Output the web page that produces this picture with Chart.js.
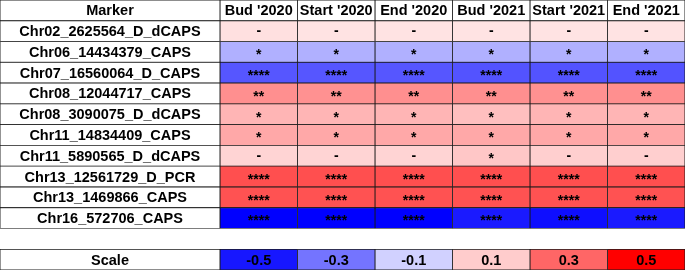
<!DOCTYPE html>
<html>
<head>
<meta charset="utf-8">
<script src="https://cdn.jsdelivr.net/npm/chart.js@4"></script>
<style>
  html, body { margin: 0; padding: 0; background: #fff; }
  #heat { display: block; }
</style>
</head>
<body>
<canvas id="heat" width="685" height="270"></canvas>
<script>
const columns = ["Bud '2020", "Start '2020", "End '2020", "Bud '2021", "Start '2021", "End '2021"];
const markers = [
  'Chr02_2625564_D_dCAPS',
  'Chr06_14434379_CAPS',
  'Chr07_16560064_D_CAPS',
  'Chr08_12044717_CAPS',
  'Chr08_3090075_D_dCAPS',
  'Chr11_14834409_CAPS',
  'Chr11_5890565_D_dCAPS',
  'Chr13_12561729_D_PCR',
  'Chr13_1469866_CAPS',
  'Chr16_572706_CAPS'
];
// effect per marker, one value per column
const effects = [
  [0.060, 0.055, 0.055, 0.055, 0.055, 0.055],
  [-0.170, -0.170, -0.170, -0.170, -0.170, -0.170],
  [-0.365, -0.365, -0.365, -0.370, -0.370, -0.370],
  [0.220, 0.215, 0.220, 0.220, 0.215, 0.220],
  [0.145, 0.145, 0.145, 0.125, 0.145, 0.145],
  [0.170, 0.170, 0.170, 0.170, 0.170, 0.170],
  [0.085, 0.085, 0.085, 0.110, 0.095, 0.095],
  [0.345, 0.345, 0.345, 0.345, 0.345, 0.345],
  [0.340, 0.340, 0.340, 0.340, 0.340, 0.340],
  [-0.550, -0.550, -0.550, -0.495, -0.520, -0.495]
];
const signif = [
  ['-', '-', '-', '-', '-', '-'],
  ['*', '*', '*', '*', '*', '*'],
  ['****', '****', '****', '****', '****', '****'],
  ['**', '**', '**', '**', '**', '**'],
  ['*', '*', '*', '*', '*', '*'],
  ['*', '*', '*', '*', '*', '*'],
  ['-', '-', '-', '*', '-', '-'],
  ['****', '****', '****', '****', '****', '****'],
  ['****', '****', '****', '****', '****', '****'],
  ['****', '****', '****', '****', '****', '****']
];
const scaleValues = [-0.5, -0.3, -0.1, 0.1, 0.3, 0.5];

const markerWidth = 220 / 77.5; // first column, in units of one data column
const rows = ['Marker', ...markers, '', 'Scale'];
const GAP = rows.length - 2;
const SCALE = rows.length - 1;

function heatColor(v) {
  if (v < 0) {
    const c = Math.round(255 * (1 - Math.min(1, -v / 0.55)));
    return `rgb(${c},${c},255)`;
  }
  const c = Math.round(255 * (1 - Math.min(1, v / 0.5)));
  return `rgb(255,${c},${c})`;
}

const datasets = [{
  label: 'Marker',
  data: rows.map((r, i) => i === GAP ? null : markerWidth),
  backgroundColor: '#ffffff',
  texts: rows.map((r, i) => i === GAP ? '' : r)
}];
columns.forEach((col, j) => {
  datasets.push({
    label: col,
    data: rows.map((r, i) => i === GAP ? null : 1),
    backgroundColor: rows.map((r, i) => {
      if (i === 0 || i === GAP) return '#ffffff';
      if (i === SCALE) return heatColor(scaleValues[j]);
      return heatColor(effects[i - 1][j]);
    }),
    texts: rows.map((r, i) => {
      if (i === 0) return col;
      if (i === GAP) return '';
      if (i === SCALE) return String(scaleValues[j]);
      return signif[i - 1][j];
    })
  });
});
datasets.forEach(d => {
  d.borderColor = '#1a1a1a';
  d.borderWidth = 0.8;
  d.borderSkipped = false;
  d.barPercentage = 1;
  d.categoryPercentage = 1;
});

const cellText = {
  id: 'cellText',
  afterDatasetsDraw(chart) {
    const ctx = chart.ctx;
    ctx.save();
    ctx.fillStyle = '#000';
    ctx.textAlign = 'center';
    ctx.textBaseline = 'middle';
    chart.data.datasets.forEach((ds, di) => {
      chart.getDatasetMeta(di).data.forEach((bar, i) => {
        const t = ds.texts[i];
        if (!t) return;
        const cx = (bar.x + bar.base) / 2;
        const special = /^[-*]+$/.test(t);
        if (special && i !== SCALE) {
          ctx.font = 'bold 14px "Liberation Sans", Arial, sans-serif';
          ctx.fillText(t, cx, bar.y + (t[0] === '*' ? 3.5 : 0));
        } else {
          ctx.font = 'bold 14.5px "Liberation Sans", Arial, sans-serif';
          ctx.fillText(t, cx, bar.y + 1);
        }
      });
    });
    ctx.restore();
  }
};

new Chart(document.getElementById('heat'), {
  type: 'bar',
  data: { labels: rows, datasets: datasets },
  options: {
    indexAxis: 'y',
    responsive: false,
    devicePixelRatio: 1,
    animation: false,
    layout: { padding: 0 },
    scales: {
      x: { stacked: true, display: false, min: 0, max: markerWidth + columns.length },
      y: { stacked: true, display: false }
    },
    plugins: {
      legend: { display: false },
      tooltip: { enabled: false }
    }
  },
  plugins: [cellText]
});
</script>
</body>
</html>
